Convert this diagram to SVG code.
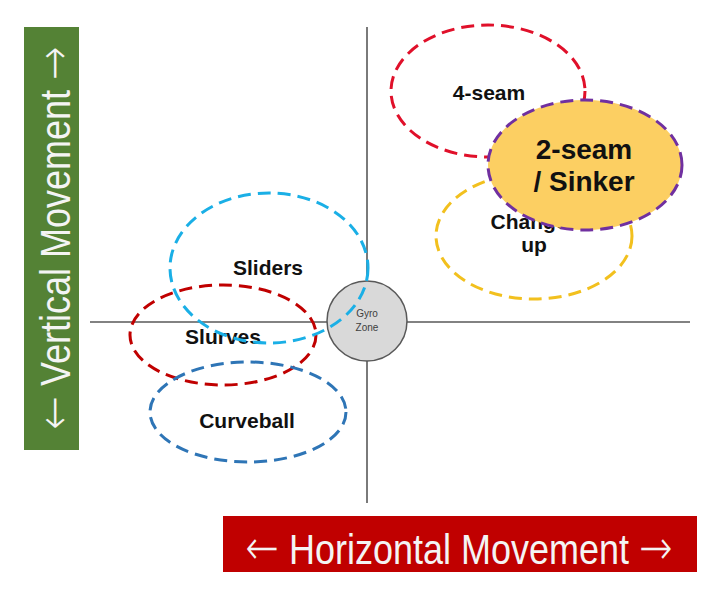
<svg xmlns="http://www.w3.org/2000/svg" width="720" height="597" viewBox="0 0 720 597">
<style>
.ax{stroke:#595959;stroke-width:1.6;fill:none}
.ell{fill:none;stroke-width:3;stroke-dasharray:13 7}
.lbl{font-family:"Liberation Sans",Arial,sans-serif;font-weight:bold;fill:#111;text-anchor:middle}
.band{font-family:"Liberation Sans",Arial,sans-serif;fill:#F4F4F4;text-anchor:middle}
.arr{font-family:"DejaVu Sans",sans-serif;font-size:40px;font-weight:200}
</style>
<rect width="720" height="597" fill="#fff"/>
<g id="vertical-label">
<rect x="24" y="27" width="55" height="423" fill="#548235"/>
<text class="band" transform="translate(70,238) rotate(-90) scale(1,1.17)" font-size="36"><tspan class="arr">←</tspan> Vertical Movement <tspan class="arr">→</tspan></text>
</g>
<g id="horizontal-label">
<rect x="223" y="516" width="474" height="56" fill="#C00000"/>
<text class="band" transform="translate(459,564) scale(1,1.2)" font-size="36"><tspan class="arr">←</tspan> Horizontal Movement <tspan class="arr">→</tspan></text>
</g>
<g id="axes">
<line class="ax" x1="90" y1="322" x2="690" y2="322"/>
<line class="ax" x1="367" y1="27" x2="367" y2="503"/>
</g>
<g id="gyro">
<circle cx="367" cy="321" r="40" fill="#D9D9D9" stroke="#595959" stroke-width="1.5"/>
<text x="367" y="317" font-family="Liberation Sans,Arial,sans-serif" font-size="10" fill="#404040" text-anchor="middle">Gyro</text>
<text x="367" y="331" font-family="Liberation Sans,Arial,sans-serif" font-size="10" fill="#404040" text-anchor="middle">Zone</text>
</g>
<g id="four-seam">
<ellipse class="ell" cx="488" cy="91" rx="97" ry="66" stroke="#E0102A"/>
<text class="lbl" x="489" y="100" font-size="21">4-seam</text>
</g>
<g id="change-up">
<ellipse class="ell" cx="534" cy="236" rx="98" ry="63" stroke="#F2C01E"/>
<text class="lbl" x="529" y="229" font-size="21">Change</text>
<text class="lbl" x="534" y="252" font-size="21">up</text>
</g>
<g id="two-seam">
<ellipse cx="585" cy="165" rx="97" ry="65" fill="#FCCF62" stroke="#7030A0" stroke-width="3" stroke-dasharray="13 7"/>
<text class="lbl" x="584" y="159" font-size="28">2-seam</text>
<text class="lbl" x="584" y="191" font-size="28">/ Sinker</text>
</g>
<g id="slurves">
<ellipse class="ell" cx="223" cy="335" rx="93" ry="50" stroke="#C00000"/>
<text class="lbl" x="223" y="344" font-size="21">Slurves</text>
</g>
<g id="sliders">
<ellipse class="ell" cx="269" cy="268" rx="99" ry="75" stroke="#1AAFE6"/>
<text class="lbl" x="268" y="275" font-size="21">Sliders</text>
</g>
<g id="curveball">
<ellipse class="ell" cx="248" cy="412" rx="98" ry="50" stroke="#2E75B6"/>
<text class="lbl" x="247" y="428" font-size="21">Curveball</text>
</g>
</svg>
